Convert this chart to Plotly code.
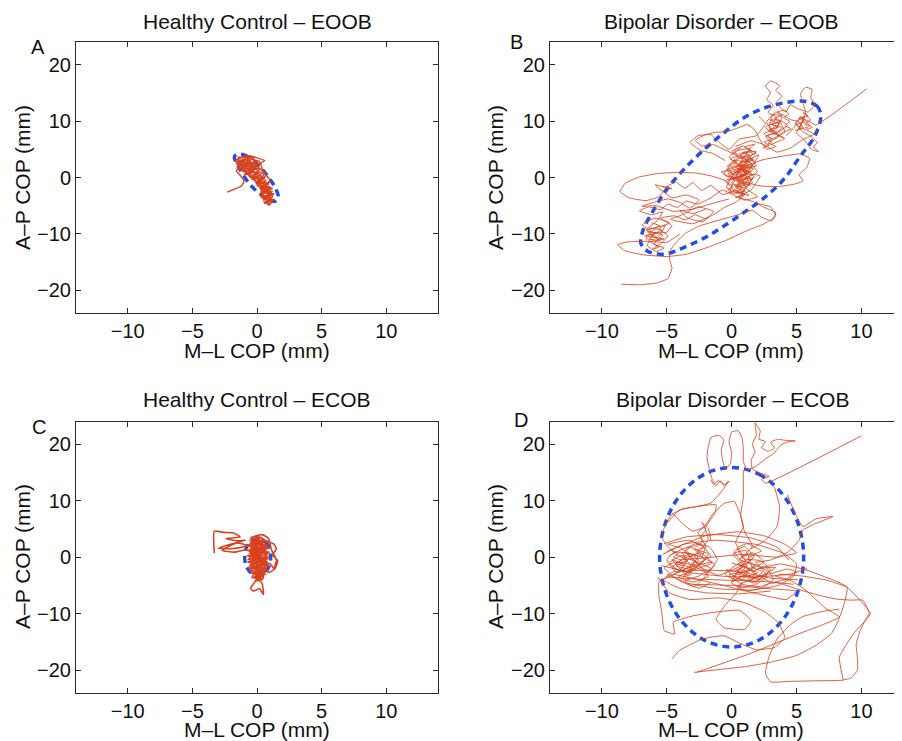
import plotly.graph_objects as go

# ---------------- axis ticks / labels ----------------
X_TICKS = [-10, -5, 0, 5, 10]
X_TICK_TEXT = ['−10', '−5', '0', '5', '10']
Y_TICKS = [-20, -10, 0, 10, 20]
Y_TICK_TEXT = ['−20', '−10', '0', '10', '20']
PANEL_TITLES = ['Healthy Control – EOOB', 'Bipolar Disorder – EOOB',
                'Healthy Control – ECOB', 'Bipolar Disorder – ECOB']
PANEL_LETTERS = ['A', 'B', 'C', 'D']
X_LABEL = 'M–L COP (mm)'
Y_LABEL = 'A–P COP (mm)'

# ---------------- COP trajectories (mm), segments ----------------
traj_A = [
    [(-2.3, -2.6), (-1.8, -2.1), (-1.2, -1.5), (-1.0, -0.6), (-1.3, 0.4), (-1.6, 1.2), (-1.2, 2.6),
     (-1.5, 3.3), (-0.8, 3.6), (-1.4, 2.0), (-0.6, 2.9), (-1.1, 1.1), (-0.3, 2.1), (-0.9, 3.1),
     (-1.6, 2.4), (-0.5, 1.4), (-1.0, 0.5), (-0.2, 1.0), (-0.7, 2.4), (-1.3, 1.7), (-0.4, 3.2),
     (0.1, 2.5), (-0.6, 0.8), (-1.4, 1.5), (-0.9, 2.0), (-1.7, 2.9), (-1.1, 3.6), (-0.2, 3.0),
     (-0.5, 2.0), (0.2, 1.5), (-0.3, 0.3), (0.4, -0.4), (0.1, -1.3), (0.8, -0.9), (0.3, -2.0),
     (1.0, -1.6), (0.5, -2.8), (1.2, -2.4), (0.6, -3.6), (1.1, -3.1), (0.8, -4.2), (1.3, -3.8),
     (0.9, -4.9), (0.7, -4.0), (1.0, -2.8), (0.2, -1.7), (0.9, -1.2), (0.0, -0.6), (0.6, -0.1),
     (-0.2, 0.6), (0.4, -1.0), (1.1, -2.0), (0.4, -3.1), (1.0, -3.6), (0.5, -2.2), (-0.1, -0.9),
     (0.5, 0.4), (0.1, 1.2), (-0.6, 1.9), (-1.2, 2.2), (-0.8, 1.4), (-1.5, 2.7), (-1.0, 3.3),
     (-0.4, 2.6), (0.0, 1.9), (-0.3, 3.4), (-0.7, 3.9), (0.6, 3.0), (0.0, 2.2), (0.7, 0.5),
     (0.3, -0.6), (0.8, -1.9), (0.3, -3.4), (1.2, -4.4), (0.9, -3.3), (1.3, -2.9), (0.7, -2.6),
     (0.2, -1.1), (-0.4, -0.2), (-1.1, 1.7), (-1.4, 3.0), (-0.9, 2.6), (-0.2, 1.7), (-0.8, 0.9),
     (-1.3, 2.4), (-0.6, 3.3), (0.2, 2.8), (0.5, 1.0), (1.0, -0.5), (0.6, -1.5), (1.2, -3.3),
     (0.6, -4.6), (0.4, -2.5), (-0.2, -0.3), (-0.9, 1.2), (-1.5, 1.9)],
    [(-1.5, 3.6), (-0.5, 3.5), (-1.4, 2.6), (-0.3, 2.7), (-1.2, 1.8), (-0.1, 2.0), (-1.0, 1.0),
     (0.1, 0.9), (-0.6, 0.2), (0.5, 0.0), (0.0, -0.8), (1.0, -0.9), (0.2, -1.6), (1.2, -1.9),
     (0.3, -2.5), (1.3, -3.0), (0.5, -3.3), (1.2, -3.9), (0.6, -4.4), (1.0, -4.8), (0.7, -3.8),
     (0.2, -2.9), (0.9, -2.3), (0.0, -1.4), (0.7, -0.5), (-0.3, -0.1), (0.3, 0.5), (-0.8, 1.5),
     (0.0, 1.5), (-1.1, 2.3), (-0.4, 2.3), (-1.6, 3.0), (-0.9, 3.8), (-0.2, 3.7)],
]

traj_B = [
    [(10.4, 15.7), (6.5, 9.3), (6.0, 9.9), (5.4, 10.5), (5.8, 9.0), (5.2, 8.5), (5.6, 10.9),
     (4.9, 9.6), (5.5, 8.1), (6.1, 7.3), (6.6, 6.2), (6.3, 5.4), (6.7, 4.6), (6.2, 4.9),
     (5.6, 6.6), (5.0, 7.9), (5.3, 9.2), (5.7, 11.4), (5.5, 13.2), (5.3, 14.8), (5.7, 16.0),
     (6.2, 15.6), (6.1, 14.2), (6.4, 12.8), (5.9, 11.6), (5.1, 12.2), (4.5, 12.9), (4.2, 11.6),
     (3.7, 12.5), (3.5, 13.5), (3.9, 14.4), (3.4, 15.4), (3.7, 16.3), (3.0, 17.1), (2.6, 16.2),
     (3.0, 15.0), (2.7, 13.8), (3.2, 12.8), (2.8, 11.5), (3.5, 10.6), (3.0, 9.5), (3.9, 8.8),
     (3.3, 7.6), (2.6, 8.9), (3.7, 9.9), (4.1, 8.0), (3.1, 6.9), (2.5, 7.8), (3.4, 8.6),
     (3.9, 10.8), (3.2, 11.2), (2.9, 9.1), (3.6, 7.2), (2.8, 6.2), (3.4, 5.5), (2.7, 5.0),
     (2.2, 6.6), (1.8, 8.4), (1.2, 9.4), (0.4, 8.7), (-0.4, 8.1), (-1.3, 8.0), (-2.1, 7.5),
     (-2.8, 6.6), (-2.3, 5.6), (-1.5, 5.9), (-0.8, 5.2), (0.2, 4.1), (0.9, 3.0), (0.3, 1.8),
     (1.2, 0.9), (0.5, -0.5), (1.4, -1.4), (0.7, 2.6), (1.6, 3.4), (0.1, 0.4), (-0.4, -1.8),
     (0.8, -2.6), (1.5, -0.3), (0.4, 1.1), (1.9, 2.1), (1.1, 4.4), (0.3, 3.3), (-0.3, 2.0),
     (0.6, -1.2), (1.3, -3.2), (0.2, -2.1), (-0.5, -0.6), (0.9, 0.4), (1.7, 1.5), (0.6, 2.2),
     (1.4, 5.1), (0.5, 4.8), (-0.2, 3.6), (0.8, 1.6), (1.6, -0.9), (0.9, -1.8), (0.0, -1.0),
     (0.5, 0.8), (1.1, 2.9), (2.1, 4.0), (1.3, 1.2), (0.4, -0.2), (-0.6, 0.6), (0.2, 2.9),
     (1.0, 3.8), (1.8, 2.6), (0.7, 0.0), (1.2, -2.1), (2.0, -3.4), (1.0, -4.0), (0.1, -3.1),
     (-0.7, -2.2), (-1.6, -3.6), (-2.6, -4.7), (-3.5, -4.2), (-4.2, -5.3), (-4.9, -4.7),
     (-5.5, -5.7), (-6.4, -5.2), (-7.1, -5.9), (-6.2, -6.6), (-5.3, -6.1), (-5.8, -7.8),
     (-6.4, -8.9), (-5.4, -9.3), (-6.2, -10.3), (-5.5, -11.1), (-6.6, -10.8), (-5.9, -9.0),
     (-5.1, -8.4), (-5.7, -10.6), (-6.5, -9.6), (-5.3, -10.2), (-6.0, -11.8), (-5.2, -12.5),
     (-5.8, -13.1), (-6.5, -12.1), (-6.0, -9.8), (-5.0, -9.7), (-4.6, -8.5), (-5.5, -7.2),
     (-4.4, -6.8), (-3.6, -7.5), (-2.8, -6.6), (-2.0, -7.3), (-1.2, -6.3), (-0.5, -5.2),
     (0.3, -4.4), (1.0, -3.0), (0.4, -1.5), (1.5, 0.6), (0.8, 1.9), (1.7, 0.2), (0.6, -3.5),
     (1.7, -4.3), (2.5, -5.3), (3.4, -6.2), (3.1, -7.7), (2.3, -7.0), (1.6, -5.8), (0.5, -6.6),
     (-0.9, -7.5), (-2.5, -8.6), (-3.5, -9.8), (-4.2, -11.3), (-4.7, -12.8), (-4.8, -14.4),
     (-4.6, -16.0), (-4.9, -17.9), (-5.8, -18.7), (-7.1, -19.0), (-8.5, -18.9)],
    [(-0.5, -0.5), (-1.6, 0.3), (-2.8, 0.8), (-4.2, 0.9), (-5.7, 0.7), (-7.1, 0.1), (-8.2, -1.0),
     (-8.6, -2.5), (-7.9, -3.6), (-6.6, -4.1), (-5.6, -3.4), (-5.0, -1.6), (-4.3, -0.8),
     (-3.6, -1.9), (-3.0, -0.9), (-2.3, -2.3), (-1.6, -1.4), (-0.7, -3.0), (0.5, -2.2)],
    [(-0.2, -3.8), (-1.5, -4.6), (-3.0, -5.6), (-4.5, -6.0), (-5.8, -5.0), (-6.9, -5.1),
     (-6.0, -4.4), (-4.9, -3.8), (-4.0, -4.4), (-3.2, -5.4), (-2.5, -4.0), (-3.5, -3.1),
     (-4.6, -3.6), (-5.9, -1.3), (-4.6, -2.0), (-5.4, -1.6)],
    [(-4.0, -10.0), (-5.0, -11.5), (-6.5, -11.3), (-8.0, -11.4), (-8.8, -11.9), (-8.2, -13.0),
     (-6.8, -13.7), (-5.0, -14.0), (-3.5, -13.6), (-2.0, -12.5), (-0.5, -11.2), (1.0, -9.6),
     (2.5, -8.2), (3.4, -6.8), (3.0, -5.2), (2.0, -4.6)],
    [(1.0, 2.0), (2.5, 3.2), (4.0, 3.8), (5.3, 4.2), (6.0, 3.4), (5.8, 1.8), (5.2, 0.5),
     (5.5, -0.6), (4.8, -1.2), (3.6, -1.6), (2.2, -1.5), (1.0, -0.8)],
    [(0.3, 5.5), (1.5, 6.5), (2.5, 5.8), (3.5, 4.5), (4.6, 5.3), (5.4, 6.6), (6.3, 7.6), (6.6, 8.8)],
    [(-0.5, 3.0), (-1.5, 4.3), (-2.4, 4.8), (-3.2, 6.2), (-2.6, 7.4), (-1.6, 7.6), (-1.0, 6.3),
     (-0.2, 5.0), (0.6, 6.8), (1.9, 7.4), (2.6, 9.6), (2.1, 10.8)],
    [(0.0, 2.0), (1.3, 2.2), (0.2, 0.9), (1.5, 1.1), (0.4, -0.4), (1.7, -0.1), (0.3, -1.5),
     (1.2, -1.0), (-0.2, 0.3), (1.0, 1.6), (0.1, 3.0), (1.4, 2.8), (0.6, 4.2), (1.9, 4.6),
     (1.2, 3.3), (2.0, 1.0), (0.9, -0.2), (-0.4, 1.3), (0.7, 2.0), (-0.1, -2.4), (1.0, -2.9),
     (0.3, -3.6), (1.5, -2.2), (2.2, 0.3), (1.0, 0.6), (0.0, -0.3), (-0.8, 1.0), (0.3, 1.4),
     (1.6, 2.2), (0.8, 3.6), (0.0, 4.6), (0.9, 5.6), (1.7, 4.0)],
    [(0.6, -3.8), (0.9, -3.0), (0.4, -2.6), (0.8, -1.9), (0.2, -1.4), (0.7, -0.9), (0.1, -0.3),
     (0.9, 0.2), (0.3, 0.7), (1.1, 1.2), (0.4, 1.6), (1.2, 2.1), (0.6, 2.5), (1.3, 3.0),
     (0.7, 3.5), (1.4, 3.9), (0.8, 4.4), (1.5, 4.8), (1.0, 5.4), (1.8, 5.9), (1.3, 5.0),
     (1.9, 4.3), (1.2, 3.7), (1.7, 3.1), (1.0, 2.6), (1.6, 2.0), (0.8, 1.5), (1.4, 0.9),
     (0.6, 0.4), (1.2, -0.2), (0.5, -0.7), (1.1, -1.3), (0.3, -1.8), (1.0, -2.4), (0.2, -2.9),
     (-0.3, -2.2), (0.1, -1.5), (-0.4, -0.8), (0.2, -0.1), (-0.3, 0.6), (0.3, 1.3), (-0.2, 2.1),
     (0.4, 2.7), (-0.1, 3.3), (0.5, 3.9), (0.2, 4.6), (0.7, 5.2)],
    [(2.5, 5.5), (3.1, 6.3), (2.6, 7.2), (3.5, 8.1), (2.9, 8.4), (3.7, 9.4), (3.0, 10.2),
     (3.8, 10.1), (4.3, 9.2), (3.5, 7.8), (4.0, 7.0), (3.2, 8.0), (2.7, 9.8), (3.4, 11.6),
     (4.0, 11.0), (4.6, 10.2), (5.2, 9.9), (5.6, 8.4), (6.0, 9.2), (5.3, 10.8), (4.8, 8.8),
     (4.2, 7.4)],
    [(2.4, 5.2), (2.9, 5.7), (2.5, 6.3), (3.1, 6.8), (2.7, 7.4), (3.3, 7.9), (2.9, 8.5),
     (3.6, 8.9), (3.1, 9.4), (3.8, 9.9), (3.3, 10.5), (3.9, 11.0), (3.5, 11.6), (4.1, 11.9),
     (4.4, 11.2), (4.0, 10.6), (4.5, 9.9), (4.1, 9.2), (4.6, 8.6), (4.0, 8.1), (3.6, 7.5),
     (4.1, 6.9), (3.5, 6.3), (3.0, 5.8)],
    [(4.9, 8.3), (5.4, 8.8), (5.0, 9.4), (5.6, 9.9), (5.2, 10.5), (5.9, 10.9), (5.5, 11.5),
     (6.1, 10.2), (5.7, 9.6), (6.2, 8.9), (5.8, 8.4), (6.3, 7.8)],
    [(-6.2, -8.0), (-5.5, -8.6), (-6.6, -9.3), (-5.8, -9.9), (-6.7, -10.3), (-5.2, -10.9),
     (-6.3, -11.4), (-5.6, -12.3), (-6.1, -12.7), (-5.4, -11.6), (-4.9, -10.3), (-5.6, -9.1),
     (-4.8, -8.0), (-5.9, -7.2), (-6.9, -8.4), (-6.2, -9.4)],
    [(-2.0, -5.6), (-3.0, -6.4), (-4.0, -5.8), (-3.4, -7.2), (-2.2, -7.8), (-1.4, -6.0),
     (-2.6, -5.2), (-3.8, -6.6), (-4.7, -7.4), (-3.0, -8.2), (-1.8, -7.0)],
]

traj_C = [
    [(-3.3, 0.7), (-3.3, 4.6), (-2.6, 4.4), (-1.8, 4.3), (-1.3, 3.6), (-2.4, 3.3), (-1.5, 2.9),
     (-0.9, 3.0), (-2.2, 2.2), (-3.0, 1.6), (-2.0, 1.5), (-1.1, 1.8), (-0.6, 2.2), (0.3, 3.5),
     (-0.5, 2.6), (0.8, 2.2), (-0.6, 1.0), (0.9, 0.6), (-0.7, -0.4), (0.8, -1.0), (-0.5, -1.8),
     (0.7, -2.6), (-0.2, -3.4), (0.4, -4.0), (0.5, -2.9), (-0.6, -2.2), (0.9, -1.6), (-0.7, -0.9),
     (0.9, 0.1), (-0.6, 0.6), (0.8, 1.5), (-0.4, 2.0), (0.6, 3.0), (-0.1, 3.8), (0.2, 2.5),
     (-0.5, 1.5), (0.6, 0.9), (-0.4, -0.2), (0.7, -0.6), (-0.5, -1.3), (0.6, -2.1), (-0.3, -2.8),
     (0.5, -3.6), (0.0, -4.2), (0.2, -2.5), (-0.6, -1.6), (0.8, -0.3), (-0.5, 0.3), (0.7, 1.1),
     (-0.3, 1.7), (0.5, 2.6), (0.0, 3.2), (-0.5, 3.4), (0.4, 4.0), (0.9, 3.3), (1.1, 1.4),
     (1.5, -0.5), (1.3, -2.0), (1.0, -1.1), (0.4, -1.8), (-0.2, -0.7), (0.3, 0.4), (-0.1, 1.3),
     (0.5, 1.9), (-0.3, 2.9), (0.1, -3.3), (-0.2, -4.5), (-0.5, -5.5), (-0.3, -6.0), (0.2, -5.6),
     (0.5, -6.6), (0.4, -4.7), (0.1, -3.8), (0.6, -1.3), (-0.4, 0.9), (0.3, 1.6), (-0.6, -0.1),
     (0.8, -0.8), (-0.2, -2.0), (0.5, -3.0), (-0.4, -3.6), (0.2, -1.5), (0.7, 0.4), (-0.2, 2.3),
     (0.4, 3.1), (1.3, 2.3), (1.5, 1.5), (1.2, 0.4), (1.6, -0.6), (1.4, -2.0), (0.9, -2.7),
     (0.2, -0.2), (-0.5, 1.9), (-1.6, 2.5), (-2.7, 1.2), (-1.7, 0.9), (-0.8, 1.4)],
    [(-0.6, 3.0), (0.8, 2.8), (-0.7, 2.2), (0.9, 1.9), (-0.8, 1.2), (1.0, 0.9), (-0.8, 0.2),
     (1.0, -0.2), (-0.7, -0.8), (0.9, -1.2), (-0.6, -1.9), (0.8, -2.2), (-0.5, -2.8), (0.7, -3.0),
     (-0.3, -3.6), (0.4, -3.9), (0.0, -3.0), (0.6, -2.4), (-0.4, -1.4), (0.7, -0.4), (-0.5, 0.8),
     (0.6, 1.6), (-0.3, 2.6), (0.3, 3.6)],
]

traj_D = [
    [(10.0, 21.5), (2.6, 13.1), (2.3, 13.8), (2.9, 14.3), (2.2, 14.9), (1.6, 15.6), (1.5, 17.2),
     (1.8, 18.6), (1.6, 20.0), (1.9, 21.6), (1.8, 23.8), (2.2, 22.4), (2.1, 20.9), (2.6, 20.5),
     (2.3, 19.4), (2.8, 18.8), (3.3, 19.3), (3.0, 20.4), (3.6, 20.9), (4.1, 20.7), (4.9, 20.6),
     (4.3, 20.4), (3.8, 19.9), (3.2, 18.3), (2.6, 17.4), (2.0, 16.3), (1.2, 15.4), (0.9, 17.0),
     (0.9, 19.2), (0.8, 21.2), (0.5, 22.4), (0.0, 22.2), (-0.2, 20.4), (0.0, 18.6), (-0.1, 16.6),
     (-0.5, 15.6), (-0.7, 17.2), (-0.8, 19.0), (-0.6, 20.8), (-1.0, 21.6), (-1.6, 21.2),
     (-1.8, 19.6), (-1.9, 17.6), (-1.7, 15.5), (-1.5, 13.8), (-1.2, 12.6), (-0.9, 13.5),
     (-0.5, 12.8), (-0.2, 13.5), (-0.6, 12.2), (-1.0, 11.0), (-1.6, 9.6), (-2.6, 9.0),
     (-3.8, 8.5), (-4.6, 7.6), (-5.1, 5.8), (-5.4, 3.6), (-4.9, 1.8), (-4.2, 0.4), (-3.4, -0.6),
     (-4.3, -1.5), (-3.0, -2.2), (-3.8, 0.8), (-2.6, 0.2), (-3.2, -1.8), (-4.6, -0.4),
     (-3.5, -3.1), (-2.4, -1.2), (-1.8, 0.6), (-2.9, 1.5), (-2.2, 2.8), (-2.6, 4.4), (-2.1, 5.3),
     (-1.8, 3.2), (-2.5, 1.0), (-3.3, -0.2), (-4.0, -2.4), (-4.8, -1.0), (-3.9, 0.3),
     (-2.7, -0.9), (-1.6, -2.0), (-2.5, -3.3), (-3.6, -4.2), (-2.9, -5.2), (-2.2, -3.8),
     (-1.3, -1.3), (-2.0, -0.3), (-3.1, 0.6), (-4.4, 0.9), (-5.0, -0.5), (-4.2, -2.8),
     (-3.0, -1.4), (-1.9, -2.8), (-1.1, -0.4), (-1.7, 1.8), (-2.8, 2.4), (-3.6, 1.2),
     (-2.3, -1.9), (-1.0, -3.2), (0.2, -2.1), (1.3, -0.9), (0.6, -3.4), (1.8, -3.0), (0.9, -1.5),
     (0.1, 0.6), (1.1, 1.2), (1.6, -1.8), (2.4, -2.6), (1.4, -4.2), (0.3, -3.6), (-0.4, -2.2),
     (0.8, -2.8), (2.0, -1.2), (2.7, -3.4), (1.9, -4.8), (0.9, -5.4), (0.0, -4.6), (0.6, -2.0),
     (1.5, 0.3), (2.3, 1.1), (1.2, 2.4), (0.4, 1.6), (1.0, -0.3), (2.2, -0.6), (3.0, -2.2),
     (2.1, -4.0), (1.1, -3.1), (0.2, -4.0), (-0.5, -3.0), (0.5, -1.2), (1.7, -2.4), (2.6, -1.6),
     (3.2, -4.0), (2.4, -5.4), (1.2, -6.0), (0.4, -5.2), (1.8, -3.6), (3.2, -2.8), (4.3, -2.1),
     (5.0, -2.6), (4.2, -3.9), (3.0, -4.6), (3.5, -4.5), (5.0, -5.6), (6.5, -6.6), (8.0, -7.4),
     (9.2, -7.6), (10.1, -7.6), (10.6, -9.9), (10.2, -11.6), (9.9, -13.0), (9.6, -15.5),
     (9.7, -18.0), (9.7, -20.0), (9.2, -21.4), (8.5, -21.8), (6.5, -21.9), (4.5, -22.0),
     (3.0, -22.1), (2.6, -20.5), (2.9, -17.5), (3.5, -14.5), (4.5, -12.0), (5.5, -10.5),
     (7.0, -9.6), (8.3, -9.2)],
    [(-2.9, -20.4), (-1.0, -19.9), (1.0, -19.4), (3.0, -18.6), (5.0, -17.4), (6.5, -15.6),
     (7.7, -13.5), (8.3, -10.6), (7.2, -9.0), (5.8, -6.0), (4.6, -4.2), (3.3, -3.3)],
    [(-2.7, -20.4), (1.4, -17.1), (5.25, -13.5), (8.3, -10.6), (8.9, -5.3), (5.8, -2.3),
     (3.8, -1.2), (2.0, -2.0)],
    [(8.6, -21.8), (8.3, -17.7), (9.4, -13.5), (10.7, -10.0), (10.0, -7.9), (8.9, -5.3),
     (7.2, -4.0), (5.3, -3.3), (3.6, -3.0)],
    [(-1.5, -0.8), (-3.5, -2.0), (-5.6, -4.5), (-5.6, -7.0), (-5.4, -9.5), (-5.2, -13.0),
     (-4.4, -13.6), (-4.5, -11.5), (-3.0, -10.4), (-1.5, -9.8), (0.6, -9.4), (1.5, -11.2),
     (1.0, -12.8), (-0.6, -12.5), (-1.2, -11.0), (-0.5, -8.5), (0.3, -6.5), (0.8, -4.5)],
    [(-5.7, -3.5), (-4.8, -6.3), (-3.2, -7.5), (-1.0, -7.2), (0.9, -8.0), (2.5, -9.6),
     (3.6, -11.6), (4.1, -14.2), (3.3, -16.0), (1.9, -16.4), (0.6, -15.2), (-0.6, -13.9),
     (-2.3, -14.5), (-4.0, -16.5), (-4.6, -18.0)],
    [(-2.1, 5.3), (-1.5, 7.5), (-0.6, 9.5), (0.2, 9.9), (0.6, 8.0), (0.9, 5.4), (0.3, 2.6),
     (0.9, 0.3), (1.6, 2.0), (1.0, 4.5), (0.7, 7.4), (0.9, 10.6), (0.9, 13.5), (0.9, 15.4)],
    [(-4.5, 7.7), (-3.8, 6.0), (-3.0, 4.6), (-2.0, 5.5), (-1.3, 7.8), (-1.2, 9.3), (-4.0, 8.4),
     (-5.0, 6.0)],
    [(3.3, 12.5), (3.7, 8.9), (3.5, 5.4), (2.6, 3.0), (1.5, 1.5)],
    [(4.3, 11.0), (4.9, 7.7), (5.5, 5.4), (6.5, 6.8), (7.8, 7.2), (6.3, 5.8), (5.5, 4.8),
     (5.2, 3.0), (4.4, 1.0), (3.0, -0.5), (1.8, -0.9)],
    [(-5.3, 0.5), (-3.7, 2.3), (-1.2, 3.0), (1.8, 2.3), (4.0, 0.7), (5.0, -1.2), (4.8, -3.3),
     (3.6, -5.0), (1.6, -5.8), (-1.0, -5.6), (-3.4, -4.6), (-5.0, -3.0)],
    [(-1.6, 13.7), (-1.4, 12.9), (-1.0, 13.6), (-0.6, 12.7), (-0.3, 13.4)],
    [(-4.8, 0.3), (-3.2, 1.9), (-2.1, -0.6), (-3.4, -2.6), (-4.6, -1.8), (-3.7, -0.3), (-2.4, 0.8),
     (-1.5, -1.0), (-2.6, -2.0), (-4.1, -3.5), (-3.0, -4.4), (-1.8, -3.4), (-2.9, -0.5),
     (-3.9, 1.6), (-4.9, 2.3), (-3.3, 3.0), (-2.3, 2.0), (-1.6, 0.2), (-2.8, -1.3), (-4.4, -0.9),
     (-5.2, -1.9), (-4.0, -4.2), (-2.5, -5.5), (-1.7, -4.6)],
    [(0.0, -1.0), (1.4, -2.2), (0.5, -3.8), (1.9, -4.3), (2.8, -2.6), (1.8, -1.3), (0.6, -0.4),
     (1.6, 0.8), (2.5, -0.8), (1.1, -2.6), (-0.2, -3.1), (0.8, -4.8), (2.2, -5.2), (3.0, -4.5),
     (2.0, -3.2), (0.9, -1.1), (0.2, 1.0), (1.0, 1.9), (1.7, 0.0), (0.5, -2.4), (1.5, -3.7),
     (2.6, -3.0), (3.4, -1.8), (2.1, -2.0)],
    [(-4.6, 1.2), (-4.1, 0.6), (-4.5, 0.0), (-3.9, -0.5), (-4.3, -1.1), (-3.7, -1.6), (-4.0, -2.3),
     (-3.4, -2.7), (-3.7, -3.4), (-3.1, -3.0), (-3.3, -2.2), (-2.8, -1.8), (-3.1, -1.1),
     (-2.5, -0.6), (-2.9, 0.1), (-2.3, 0.6), (-2.7, 1.3), (-2.1, 1.7), (-2.5, 2.4), (-3.0, 1.9),
     (-3.5, 1.2), (-3.2, 0.5), (-3.8, 0.1), (-3.5, -0.7), (-4.0, -1.0)],
    [(0.0, -4.4), (0.5, -3.9), (0.1, -3.3), (0.7, -2.9), (0.3, -2.3), (0.9, -1.8), (0.5, -1.1),
     (1.1, -0.6), (0.7, 0.1), (1.3, 0.5), (1.6, -0.2), (1.2, -0.9), (1.8, -1.5), (1.4, -2.2),
     (2.0, -2.7), (1.6, -3.4), (2.2, -3.9), (1.8, -4.6), (1.2, -4.1), (1.5, -3.3), (0.9, -3.6),
     (1.3, -2.6), (0.6, -2.2)],
    [(-4.5, -3.0), (-1.0, -4.8), (2.0, -6.5), (4.2, -7.5), (5.0, -6.0), (3.0, -5.6), (0.0, -5.0),
     (-3.0, -4.8)],
    [(-5.0, 1.0), (-2.0, 3.8), (0.5, 4.5), (2.5, 3.8), (4.0, 2.4), (5.0, 0.8), (3.5, 0.0),
     (1.0, 0.5), (-1.5, 0.0), (-4.0, -0.5)],
    [(5.1, -4.0), (3.0, -3.7), (0.5, -2.5), (-2.0, -2.3), (-4.5, -2.6), (-5.3, -4.0), (-4.0, -5.5),
     (-2.0, -6.3), (0.5, -6.5), (3.0, -6.0)],
    [(-2.3, 0.0), (-2.0, 2.0), (-2.4, 3.5), (-2.0, 4.8), (-2.3, 6.2), (-1.8, 5.0), (-1.6, 3.0)],
    [(-5.4, -1.5), (-3.0, -2.8), (-0.5, -3.4), (2.0, -3.5), (4.5, -3.0), (5.8, -2.0)],
    [(-5.0, -3.5), (-2.5, -3.9), (0.0, -4.1), (2.5, -4.3), (4.8, -4.8)],
    [(-5.2, 2.4), (-3.5, 3.6), (-1.0, 4.0), (1.5, 3.4), (3.5, 1.8), (4.4, -0.5)],
]

# ---------------- 95% confidence ellipses (mm) ----------------
ell_A = [(-1.55, 4.1), (-1.0, 4.0), (-0.4, 3.2), (0.3, 1.7), (0.9, 0.0), (1.4, -1.8),
         (1.65, -3.5), (1.4, -4.2), (0.9, -4.0), (0.3, -3.0), (-0.4, -1.6), (-1.0, 0.2),
         (-1.5, 2.2), (-1.75, 3.6), (-1.55, 4.1)]
ell_B = [(6.87, 10.85), (6.6, 12.6), (5.6, 13.5), (4.0, 13.2), (2.5, 12.3), (0.95, 10.6),
         (-0.6, 7.9), (-2.1, 5.0), (-3.7, 1.4), (-5.0, -2.1), (-6.0, -5.7), (-6.8, -9.2),
         (-7.0, -11.6), (-6.5, -13.0), (-5.2, -13.6), (-3.7, -12.4), (-2.1, -10.7), (-0.6, -8.6),
         (0.95, -6.2), (2.5, -3.6), (4.0, -0.35), (5.3, 3.8), (6.4, 7.3), (6.87, 10.85)]
ell_C = [(0.1, 3.3), (0.7, 2.6), (1.0, 1.2), (1.05, -0.3), (0.9, -1.8), (0.5, -3.0), (0.0, -3.3),
         (-0.5, -2.7), (-0.85, -1.5), (-0.95, 0.2), (-0.8, 1.8), (-0.4, 2.9), (0.1, 3.3)]
ell_D = [(0.0, 15.9), (2.1, 14.7), (3.9, 11.2), (5.1, 6.1), (5.55, 0.0), (5.1, -6.1),
         (3.9, -11.2), (2.1, -14.7), (0.0, -15.9), (-2.1, -14.7), (-3.9, -11.2), (-5.1, -6.1),
         (-5.55, 0.0), (-5.1, 6.1), (-3.9, 11.2), (-2.1, 14.7), (0.0, 15.9)]

# ---------------- styling ----------------
OFF = 8                      # the page body adds an 8 px margin; positions below are page pixels
W, H = 902 - OFF, 741 - OFF
FONT = 'Liberation Sans, Arial, Helvetica, sans-serif'
RED = '#d8431f'
BLUE = '#1f4fe6'
AX = '#2b2b2b'
TXT = '#111111'

panels = [
    dict(l=76, r=438, t=42, b=313, xr=[-14, 14]),
    dict(l=550, r=902, t=42, b=313, xr=[-14, 13.13]),
    dict(l=76, r=438, t=421.7, b=692.7, xr=[-14, 14]),
    dict(l=550, r=902, t=421.7, b=692.7, xr=[-14, 13.13]),
]
title_pos = [(257, 21), (721, 21), (257, 399), (732, 399)]
letter_pos = [(38, 47), (516, 42), (39, 427), (521, 420)]
xlab_pos = [(257, 350), (731, 350), (257, 729), (731, 729)]
ylab_pos = [(22, 178), (495, 178), (22, 557), (495, 557)]
widths = [1.4, 0.85, 1.6, 0.85]
smooth = [0.5, 0.35, 0.5, 0.35]


def fx(px):
    return (px - OFF) / W


def fy(py):
    return 1 - (py - OFF) / H


def flatten(segs):
    xs, ys = [], []
    for i, s in enumerate(segs):
        if i:
            xs.append(None)
            ys.append(None)
        xs += [p[0] for p in s]
        ys += [p[1] for p in s]
    return xs, ys


fig = go.Figure()
trajs = [traj_A, traj_B, traj_C, traj_D]
ells = [ell_A, ell_B, ell_C, ell_D]

for i in range(4):
    xa = 'x' if i == 0 else f'x{i+1}'
    ya = 'y' if i == 0 else f'y{i+1}'
    ex = [p[0] for p in ells[i]]
    ey = [p[1] for p in ells[i]]
    fig.add_trace(go.Scatter(x=ex, y=ey, mode='lines', xaxis=xa, yaxis=ya,
                             line=dict(color=BLUE, width=3.5, dash='7px,5px', shape='spline'),
                             hoverinfo='skip', showlegend=False))
    tx, ty = flatten(trajs[i])
    fig.add_trace(go.Scatter(x=tx, y=ty, mode='lines', xaxis=xa, yaxis=ya,
                             line=dict(color=RED, width=widths[i], shape='spline',
                                       smoothing=smooth[i]),
                             connectgaps=False, hoverinfo='skip', showlegend=False))

layout = dict(width=W, height=H, margin=dict(l=0, r=0, t=0, b=0, pad=0, autoexpand=False),
              paper_bgcolor='white', plot_bgcolor='white', showlegend=False,
              font=dict(family=FONT, size=20, color=TXT))
annotations = []
for i, p in enumerate(panels):
    sfx = '' if i == 0 else str(i + 1)
    full = p['r'] >= 902
    layout['xaxis' + sfx] = dict(
        domain=[fx(p['l']), min(1.0, fx(p['r']))], range=p['xr'], anchor='y' + sfx,
        tickvals=X_TICKS, ticktext=X_TICK_TEXT, ticks='inside', ticklen=5, tickcolor=AX,
        showline=True, linecolor=AX, linewidth=1, mirror='ticks', showgrid=False,
        zeroline=False, automargin=False, tickfont=dict(size=20, family=FONT, color=TXT))
    layout['yaxis' + sfx] = dict(
        domain=[fy(p['b']), fy(p['t'])], range=[-24, 24], anchor='x' + sfx,
        tickvals=Y_TICKS, ticktext=Y_TICK_TEXT, ticks='inside', ticklen=5, tickcolor=AX,
        showline=True, linecolor=AX, linewidth=1, mirror=False if full else 'ticks',
        showgrid=False, zeroline=False, automargin=False,
        tickfont=dict(size=20, family=FONT, color=TXT))
    common = dict(xref='paper', yref='paper', showarrow=False, xanchor='center', yanchor='middle')
    annotations.append(dict(text=PANEL_TITLES[i], x=fx(title_pos[i][0]), y=fy(title_pos[i][1]),
                            font=dict(size=21, family=FONT, color=TXT), **common))
    annotations.append(dict(text=PANEL_LETTERS[i], x=fx(letter_pos[i][0]), y=fy(letter_pos[i][1]),
                            font=dict(size=20, family=FONT, color=TXT), **common))
    annotations.append(dict(text=X_LABEL, x=fx(xlab_pos[i][0]), y=fy(xlab_pos[i][1]),
                            font=dict(size=21, family=FONT, color=TXT), **common))
    annotations.append(dict(text=Y_LABEL, x=fx(ylab_pos[i][0]), y=fy(ylab_pos[i][1]),
                            textangle=-90, font=dict(size=21, family=FONT, color=TXT), **common))
layout['annotations'] = annotations
fig.update_layout(**layout)
fig.write_html('out.html')
